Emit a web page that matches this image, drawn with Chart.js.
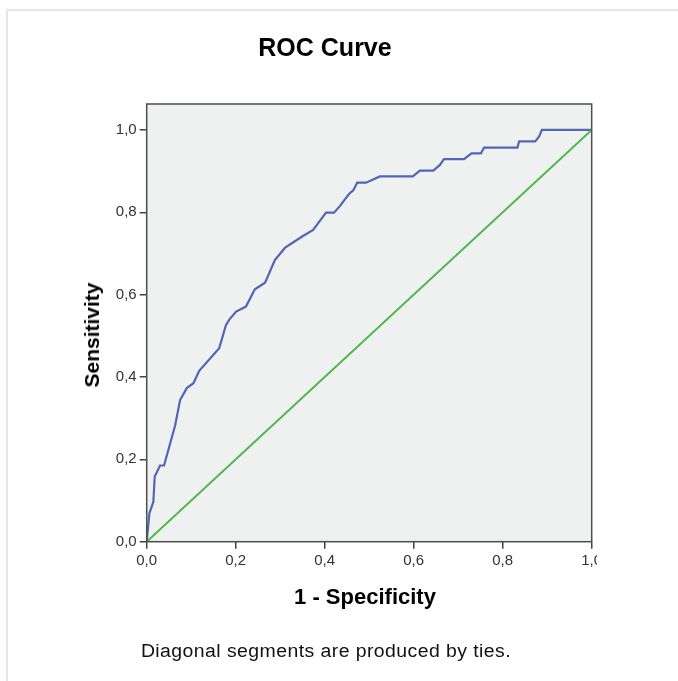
<!DOCTYPE html>
<html>
<head>
<meta charset="UTF-8">
<title>ROC Curve</title>
<style>
    body { margin: 0; background: #ffffff; font-family: "Liberation Sans", Arial, sans-serif; }
    #page { position: relative; width: 678px; height: 681px; overflow: hidden; }
    /* cadre gris clair autour de la sortie */
    #frame { position: absolute; left: 6px; top: 9px; width: 700px; height: 700px;
             border-left: 2px solid #e6e6e6; border-top: 2px solid #e6e6e6; }
    #clip { position: absolute; left: 0; top: 0; width: 597px; height: 681px; overflow: hidden; }
    .txt { position: absolute; transform: translate(-50%, -50%); white-space: nowrap; color: #000; }
    #title { left: 325px; top: 47px; font-size: 25px; font-weight: bold; }
    #xtitle { left: 365px; top: 597px; font-size: 22px; font-weight: bold; }
    #ytitle { left: 92px; top: 335px; font-size: 21px; font-weight: bold; transform: translate(-50%, -50%) rotate(-90deg); }
    #note { left: 326px; top: 651px; font-size: 18px; letter-spacing: 0.4px; transform: translate(-50%, -50%) scaleX(1.08); color: #111; }
</style>
<script src="https://cdn.jsdelivr.net/npm/chart.js"></script>
</head>
<body>
<div id="page">
    <div id="frame"></div>
    <div id="clip"><canvas id="roc" width="678" height="681"></canvas></div>
    <div class="txt" id="title">ROC Curve</div>
    <div class="txt" id="ytitle">Sensitivity</div>
    <div class="txt" id="xtitle">1 - Specificity</div>
    <div class="txt" id="note">Diagonal segments are produced by ties.</div>
</div>
<script>
    // Données de la courbe (1 - spécificité, sensibilité)
    const fpr = [0, 0.006, 0.015, 0.018, 0.030, 0.039, 0.064, 0.075, 0.090, 0.105,
                 0.118, 0.163, 0.178, 0.186, 0.201, 0.223, 0.243, 0.266, 0.288, 0.311,
                 0.352, 0.374, 0.403, 0.421, 0.434, 0.455, 0.464, 0.473, 0.493, 0.524,
                 0.598, 0.614, 0.644, 0.659, 0.668, 0.713, 0.730, 0.751, 0.758, 0.833,
                 0.837, 0.873, 0.882, 0.888, 1.0];
    const tpr = [0, 0.069, 0.097, 0.158, 0.185, 0.185, 0.283, 0.344, 0.373, 0.385,
                 0.415, 0.470, 0.526, 0.540, 0.559, 0.571, 0.613, 0.629, 0.684, 0.714,
                 0.743, 0.757, 0.799, 0.799, 0.815, 0.845, 0.853, 0.872, 0.872, 0.887,
                 0.887, 0.901, 0.901, 0.915, 0.929, 0.929, 0.943, 0.943, 0.957, 0.957,
                 0.972, 0.972, 0.984, 1.0, 1.0];
    // Ligne de référence
    const refX = [0, 1];
    const refY = [0, 1];
    const xTicks = [0, 0.2, 0.4, 0.6, 0.8, 1.0];
    const yTicks = [0, 0.2, 0.4, 0.6, 0.8, 1.0];

    const fmt = v => v.toFixed(1).replace('.', ',');

    // Fond gris et cadre de la zone de tracé
    const plotBox = {
        id: 'plotBox',
        beforeDatasetsDraw(chart) {
            const a = chart.chartArea, c = chart.ctx;
            c.save();
            c.fillStyle = '#eff0f0';
            c.fillRect(a.left, a.top, a.right - a.left, a.bottom - a.top);
            c.restore();
        },
        afterDraw(chart) {
            const a = chart.chartArea, c = chart.ctx;
            c.save();
            c.strokeStyle = '#4d4d4d';
            c.lineWidth = 1.5;
            c.strokeRect(a.left, a.top, a.right - a.left, a.bottom - a.top);
            c.restore();
        }
    };

    const tickFont = { family: '"Liberation Sans", Arial, sans-serif', size: 15 };

    new Chart(document.getElementById('roc'), {
        type: 'scatter',
        data: {
            datasets: [
                {
                    data: refX.map((x, i) => ({ x: x, y: refY[i] })),
                    showLine: true, borderColor: '#4cb84a', borderWidth: 2,
                    pointRadius: 0, fill: false
                },
                {
                    data: fpr.map((x, i) => ({ x: x, y: tpr[i] })),
                    showLine: true, borderColor: '#5066b6', borderWidth: 2.2,
                    pointRadius: 0, fill: false, tension: 0
                }
            ]
        },
        options: {
            responsive: false,
            animation: false,
            layout: { padding: { left: 106.7, right: 86.3, top: 104, bottom: 109.3 } },
            plugins: { legend: { display: false }, tooltip: { enabled: false } },
            scales: {
                x: {
                    type: 'linear', min: 0, max: 1,
                    afterBuildTicks: s => { s.ticks = xTicks.map(v => ({ value: v })); },
                    afterFit: s => { s.height = 30; },
                    grid: { drawOnChartArea: false, drawTicks: true, tickLength: 7, color: '#444', lineWidth: 1.5 },
                    border: { display: false },
                    ticks: { callback: v => fmt(v), color: '#333', font: tickFont, padding: 3, maxRotation: 0 }
                },
                y: {
                    type: 'linear', min: 0, max: 1.063,
                    afterBuildTicks: s => { s.ticks = yTicks.map(v => ({ value: v })); },
                    afterFit: s => { s.width = 40; },
                    grid: { drawOnChartArea: false, drawTicks: true, tickLength: 7, color: '#444', lineWidth: 1.5 },
                    border: { display: false },
                    ticks: { callback: v => fmt(v), color: '#333', font: tickFont, padding: 3 }
                }
            }
        },
        plugins: [plotBox]
    });
</script>
</body>
</html>
